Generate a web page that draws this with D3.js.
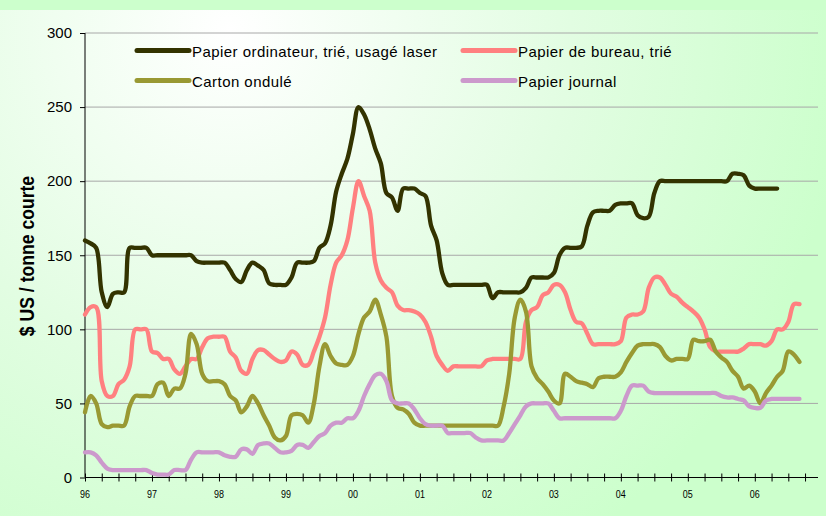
<!DOCTYPE html>
<html><head><meta charset="utf-8">
<script src="https://cdn.jsdelivr.net/npm/d3@7"></script>
<style>html,body{margin:0;padding:0;background:#ccffcc;overflow:hidden}</style>
</head><body>
<script>
// Monthly values, Jan 1996 onward
const yearLabels = ["96","97","98","99","00","01","02","03","04","05","06"];
const yTicks = [0,50,100,150,200,250,300];
const seriesNames = ["Papier ordinateur, trié, usagé laser","Papier de bureau, trié","Carton ondulé","Papier journal"];
const seriesColors = ["#333300","#ff8080","#999933","#cc99cc"];

const computerPaper = [160,158,155,125,115,124,125,125,155,155,155,155,
 150,150,150,150,150,150,150,150,146,145,145,145,
 145,145,140,134,132,140,145,143,140,131,130,130,
 130,135,145,145,145,146,155,158,170,193,205,215,
 232,250,245,235,222,212,192,189,180,195,195,195,
 192,190,170,160,138,130,130,130,130,130,130,130,
 130,121,125,125,125,125,125,128,135,135,135,135,
 138,150,155,155,155,156,170,179,180,180,180,184,
 185,185,185,177,175,176,192,200,200,200,200,200,
 200,200,200,200,200,200,200,200,205,205,204,197,
 195,195,195,195,195];
const officePaper = [110,115,115,65,55,55,63,66,75,100,100,100,
 85,84,80,80,73,70,75,80,80,88,94,95,
 95,95,85,81,72,70,80,86,86,83,80,78,
 79,85,83,76,76,85,95,108,130,145,150,160,
 182,200,190,180,145,133,128,125,116,113,113,112,
 110,105,95,82,76,72,75,75,75,75,75,75,
 79,80,80,80,80,80,80,105,113,115,123,125,
 130,130,125,113,105,104,97,90,90,90,90,90,
 92,108,110,110,112,128,135,135,130,124,122,118,
 115,112,108,100,88,85,85,85,85,85,87,90,
 90,90,89,92,100,100,105,117,117];
const corrugated = [44,55,50,36,34,35,35,35,48,55,55,55,
 55,63,64,55,60,60,70,97,90,70,65,65,
 65,63,55,52,44,48,55,50,42,35,27,25,
 28,42,43,42,37,50,75,90,82,77,76,76,
 82,97,108,112,120,110,95,55,47,46,43,37,
 35,35,35,35,35,35,35,35,35,35,35,35,
 35,35,35,48,70,108,120,112,75,67,63,58,
 52,50,70,68,65,64,63,61,67,68,68,68,
 71,78,84,89,90,90,90,88,82,79,80,80,
 80,93,92,92,93,85,81,78,72,68,60,62,
 58,50,57,62,68,72,85,83,78];
const newsprint = [17,17,15,10,6,5,5,5,5,5,5,5,
 3,2,2,2,5,5,5,12,17,17,17,17,
 17,15,14,14,19,19,16,22,23,23,20,17,
 17,18,22,22,20,24,28,30,35,37,37,40,
 40,45,55,63,69,70,65,52,50,50,50,46,
 40,36,35,35,35,30,30,30,30,30,27,25,
 25,25,25,25,30,36,42,48,50,50,50,50,
 45,40,40,40,40,40,40,40,40,40,40,40,
 45,55,62,62,62,58,57,57,57,57,57,57,
 57,57,57,57,57,57,55,54,54,53,52,48,
 47,47,52,53,53,53,53,53,53];
const allSeries = [computerPaper, officePaper, corrugated, newsprint];

const FONT = "Arial, 'Liberation Sans', sans-serif";
const W = 826, H = 516;
const svg = d3.select("body").append("svg").attr("width", W).attr("height", H);
const defs = svg.append("defs");
const grad = defs.append("radialGradient").attr("id","bg")
  .attr("gradientUnits","userSpaceOnUse").attr("cx",230).attr("cy",30).attr("r",620);
grad.append("stop").attr("offset","0").attr("stop-color","#ffffff");
grad.append("stop").attr("offset","0.55").attr("stop-color","#e2fde2");
grad.append("stop").attr("offset","1").attr("stop-color","#ccffcc");
svg.append("rect").attr("width",W).attr("height",H).attr("fill","#ccffcc");
svg.append("rect").attr("x",0).attr("y",10).attr("width",W).attr("height",H-10).attr("fill","url(#bg)");

const x = d3.scaleLinear().domain([0,131.5]).range([85,819]);
const y = d3.scaleLinear().domain([0,300]).range([477.5,33]);

// gridlines
svg.append("g").selectAll("line").data(yTicks.filter(d=>d>0)).join("line")
  .attr("x1",85).attr("x2",818).attr("y1",d=>y(d)).attr("y2",d=>y(d))
  .attr("stroke","#a8a8a8").attr("stroke-width",1);

// y axis
const yAxis = d3.axisLeft(y).tickValues(yTicks).tickSize(5).tickPadding(8);
const gy = svg.append("g").attr("transform","translate(85,0)").call(yAxis);
gy.select(".domain").attr("stroke","#000").attr("d","M0,33V477.5");
gy.selectAll(".tick line").attr("stroke","#000");
gy.selectAll("text").attr("font-family",FONT).attr("font-size",15).attr("fill","#000");

// x axis: ticks every 3 months
const xAxis = d3.axisBottom(x).tickValues(d3.range(0,130,3)).tickSize(4).tickFormat("");
const gx = svg.append("g").attr("transform","translate(0,477.5)").call(xAxis);
gx.select(".domain").attr("stroke","#000").attr("d","M85,0H818");
gx.selectAll(".tick line").attr("stroke","#000").attr("y1",-4).attr("y2",4);
svg.append("g").selectAll("text").data(yearLabels).join("text")
  .attr("x",0).attr("y",0).attr("text-anchor","middle")
  .attr("font-family",FONT).attr("font-size",11.5)
  .attr("transform",(d,i)=>`translate(${x(i*12)},498) scale(0.78,1)`)
  .text(d=>d);

// y title
svg.append("text").attr("transform","translate(34,256) rotate(-90) scale(0.88,1)")
  .attr("text-anchor","middle").attr("font-family",FONT)
  .attr("font-size",20).attr("font-weight","bold").text("$ US / tonne courte");

// lines
const line = d3.line().x((d,i)=>x(i)).y(d=>y(d)).curve(d3.curveCatmullRom.alpha(0.5));
svg.append("g").selectAll("path").data(allSeries).join("path")
  .attr("d",line).attr("fill","none").attr("stroke",(d,i)=>seriesColors[i])
  .attr("stroke-width",4.3).attr("stroke-linejoin","round").attr("stroke-linecap","round");

// legend
const legPos = [[137,50.5],[463,50.5],[137,80.5],[463,80.5]];
const lg = svg.append("g").selectAll("g").data(seriesNames).join("g")
  .attr("transform",(d,i)=>`translate(${legPos[i][0]},${legPos[i][1]})`);
lg.append("line").attr("x1",0).attr("x2",52).attr("y1",0).attr("y2",0)
  .attr("stroke",(d,i)=>seriesColors[i]).attr("stroke-width",5).attr("stroke-linecap","round");
lg.append("text").attr("x",55).attr("y",6.5).attr("font-family",FONT)
  .attr("font-size",15).attr("letter-spacing",0.45).attr("fill","#000").text(d=>d);
</script>
</body></html>
